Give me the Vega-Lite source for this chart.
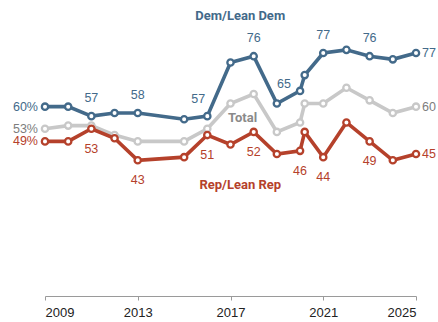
{
  "$schema": "https://vega.github.io/schema/vega-lite/v6.json",
  "width": 371,
  "height": 284,
  "autosize": "none",
  "padding": {"left": 45, "right": 22, "top": 12, "bottom": 26},
  "background": "white",
  "config": {"view": {"stroke": null}, "font": "Liberation Sans"},
  "datasets": {
    "series": [
      {"year": 2009, "series": "Dem", "value": 60},
      {"year": 2010, "series": "Dem", "value": 60},
      {"year": 2011, "series": "Dem", "value": 57},
      {"year": 2012, "series": "Dem", "value": 58},
      {"year": 2013, "series": "Dem", "value": 58},
      {"year": 2015, "series": "Dem", "value": 56},
      {"year": 2016, "series": "Dem", "value": 57},
      {"year": 2017, "series": "Dem", "value": 74},
      {"year": 2018, "series": "Dem", "value": 76},
      {"year": 2019, "series": "Dem", "value": 61},
      {"year": 2020, "series": "Dem", "value": 65},
      {"year": 2020.2, "series": "Dem", "value": 70},
      {"year": 2021, "series": "Dem", "value": 77},
      {"year": 2022, "series": "Dem", "value": 78},
      {"year": 2023, "series": "Dem", "value": 76},
      {"year": 2024, "series": "Dem", "value": 75},
      {"year": 2025, "series": "Dem", "value": 77},
      {"year": 2009, "series": "Total", "value": 53},
      {"year": 2010, "series": "Total", "value": 54},
      {"year": 2011, "series": "Total", "value": 54},
      {"year": 2012, "series": "Total", "value": 51},
      {"year": 2013, "series": "Total", "value": 49},
      {"year": 2015, "series": "Total", "value": 49},
      {"year": 2016, "series": "Total", "value": 53},
      {"year": 2017, "series": "Total", "value": 61},
      {"year": 2018, "series": "Total", "value": 64},
      {"year": 2019, "series": "Total", "value": 52},
      {"year": 2020, "series": "Total", "value": 55},
      {"year": 2020.2, "series": "Total", "value": 61},
      {"year": 2021, "series": "Total", "value": 61},
      {"year": 2022, "series": "Total", "value": 66},
      {"year": 2023, "series": "Total", "value": 62},
      {"year": 2024, "series": "Total", "value": 58},
      {"year": 2025, "series": "Total", "value": 60},
      {"year": 2009, "series": "Rep", "value": 49},
      {"year": 2010, "series": "Rep", "value": 49},
      {"year": 2011, "series": "Rep", "value": 53},
      {"year": 2012, "series": "Rep", "value": 50},
      {"year": 2013, "series": "Rep", "value": 43},
      {"year": 2015, "series": "Rep", "value": 44},
      {"year": 2016, "series": "Rep", "value": 51},
      {"year": 2017, "series": "Rep", "value": 48},
      {"year": 2018, "series": "Rep", "value": 52},
      {"year": 2019, "series": "Rep", "value": 45},
      {"year": 2020, "series": "Rep", "value": 46},
      {"year": 2020.2, "series": "Rep", "value": 52},
      {"year": 2021, "series": "Rep", "value": 44},
      {"year": 2022, "series": "Rep", "value": 55},
      {"year": 2023, "series": "Rep", "value": 49},
      {"year": 2024, "series": "Rep", "value": 43},
      {"year": 2025, "series": "Rep", "value": 45}
    ],
    "notes": [
      {"year": 2017.42, "value": 88.6, "series": "Dem", "text": "Dem/Lean Dem"},
      {"year": 2017.52, "value": 56.3, "series": "Total", "text": "Total"},
      {"year": 2017.42, "value": 35.1, "series": "Rep", "text": "Rep/Lean Rep"}
    ]
  },
  "encoding": {
    "x": {"field": "year", "type": "quantitative", "scale": {"domain": [2009, 2025], "nice": false, "zero": false},
      "axis": {"title": null, "values": [2009, 2013, 2017, 2021, 2025], "format": "d", "grid": false,
        "domainColor": "#9a9a9a", "tickColor": "#9a9a9a", "tickSize": 4, "labelPadding": 6,
        "labelFontSize": 13, "labelColor": "#222222", "labelFont": "Liberation Sans"}},
    "y": {"field": "value", "type": "quantitative", "scale": {"domain": [0, 90], "nice": false}, "axis": null}
  },
  "layer": [
    {
      "data": {"name": "series"},
      "transform": [{"filter": "datum.series == 'Total'"}],
      "mark": {"type": "line", "color": "#c8c8c8", "strokeWidth": 3.6,
        "point": {"filled": false, "fill": "white", "stroke": "#c8c8c8", "size": 40, "strokeWidth": 2.3}}
    },
    {
      "data": {"name": "series"},
      "transform": [{"filter": "datum.series == 'Rep'"}],
      "mark": {"type": "line", "color": "#b5412b", "strokeWidth": 3.6,
        "point": {"filled": false, "fill": "white", "stroke": "#b5412b", "size": 40, "strokeWidth": 2.3}}
    },
    {
      "data": {"name": "series"},
      "transform": [{"filter": "datum.series == 'Dem'"}],
      "mark": {"type": "line", "color": "#436a8a", "strokeWidth": 3.6,
        "point": {"filled": false, "fill": "white", "stroke": "#436a8a", "size": 40, "strokeWidth": 2.3}}
    },
    {
      "data": {"name": "series"},
      "transform": [{"filter": "datum.year == 2009"}, {"calculate": "datum.value + '%'", "as": "lbl"}],
      "mark": {"type": "text", "align": "right", "baseline": "middle", "dx": -7, "fontSize": 12.5},
      "encoding": {"text": {"field": "lbl"},
        "color": {"field": "series", "type": "nominal", "legend": null,
          "scale": {"domain": ["Dem", "Total", "Rep"], "range": ["#436a8a", "#7d7d7d", "#b5412b"]}}}
    },
    {
      "data": {"name": "series"},
      "transform": [{"filter": "datum.year == 2025"}],
      "mark": {"type": "text", "align": "left", "baseline": "middle", "dx": 6, "fontSize": 12.5},
      "encoding": {"text": {"field": "value"},
        "color": {"field": "series", "type": "nominal", "legend": null,
          "scale": {"domain": ["Dem", "Total", "Rep"], "range": ["#436a8a", "#7d7d7d", "#b5412b"]}}}
    },
    {
      "data": {"name": "series"},
      "transform": [{"filter": "datum.series == 'Dem' && indexof([2011, 2013, 2018, 2021, 2023], datum.year) >= 0"}],
      "mark": {"type": "text", "align": "center", "baseline": "middle", "dy": -18, "fontSize": 12.5, "color": "#436a8a"},
      "encoding": {"text": {"field": "value"}}
    },
    {
      "data": {"name": "series"},
      "transform": [{"filter": "datum.series == 'Dem' && datum.year == 2016"}],
      "mark": {"type": "text", "align": "center", "baseline": "middle", "dx": -9, "dy": -17, "fontSize": 12.5, "color": "#436a8a"},
      "encoding": {"text": {"field": "value"}}
    },
    {
      "data": {"name": "series"},
      "transform": [{"filter": "datum.series == 'Dem' && datum.year == 2020"}],
      "mark": {"type": "text", "align": "center", "baseline": "middle", "dx": -16, "dy": -7, "fontSize": 12.5, "color": "#436a8a"},
      "encoding": {"text": {"field": "value"}}
    },
    {
      "data": {"name": "series"},
      "transform": [{"filter": "datum.series == 'Rep' && indexof([2011, 2013, 2016, 2018, 2020, 2021, 2023], datum.year) >= 0"}],
      "mark": {"type": "text", "align": "center", "baseline": "middle", "dy": 20, "fontSize": 12.5, "color": "#b5412b"},
      "encoding": {"text": {"field": "value"}}
    },
    {
      "data": {"name": "notes"},
      "mark": {"type": "text", "align": "center", "baseline": "middle", "fontSize": 13, "fontWeight": "bold", "font": "Roboto"},
      "encoding": {"text": {"field": "text"},
        "color": {"field": "series", "type": "nominal", "legend": null,
          "scale": {"domain": ["Dem", "Total", "Rep"], "range": ["#436a8a", "#8a8a8a", "#b5412b"]}}}
    }
  ],
  "resolve": {"scale": {"color": "independent"}}
}
